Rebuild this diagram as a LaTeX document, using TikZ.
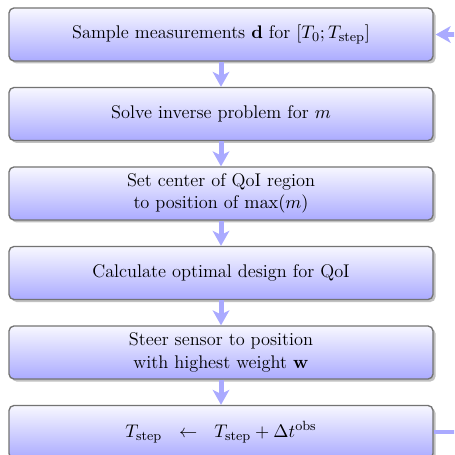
\documentclass[tikz,border=0pt]{standalone}
\usetikzlibrary{arrows.meta,shadows,calc}
\definecolor{conncol}{RGB}{170,170,255}
\begin{document}
\begin{tikzpicture}[x=0.6pt,y=-0.6pt,
  stepbox/.style={draw=black!55, line width=0.8pt, rounded corners=3pt,
    top color=blue!3, bottom color=blue!33,
    minimum width=254.4pt, minimum height=31.8pt, align=center,
    font=\fontsize{11}{13.5}\selectfont,
    drop shadow={shadow xshift=1.5pt, shadow yshift=-1.5pt, fill=black!35, opacity=0.7}},
  conn/.style={draw=conncol, line width=3pt,
    -{Stealth[length=9pt, width=10pt, inset=2.5pt]}},
  fb/.style={draw=conncol, line width=2.6pt,
    -{Stealth[length=9pt, width=10pt, inset=2.5pt]}}]
\useasboundingbox (0,0) rectangle (454,455);
\clip (0,0) rectangle (454,455);
\node[stepbox] (b1) at (221,34.5) {Sample measurements $\mathbf{d}$ for $[T_0;T_{\mathrm{step}}]$};
\node[stepbox] (b2) at (221,114) {Solve inverse problem for $m$};
\node[stepbox] (b3) at (221,193.5) {Set center of QoI region\\to position of $\max(m)$};
\node[stepbox] (b4) at (221,273) {Calculate optimal design for QoI};
\node[stepbox] (b5) at (221,352.5) {Steer sensor to position\\with highest weight $\mathbf{w}$};
\node[stepbox] (b6) at (221,432) {$T_{\mathrm{step}}\ \ \leftarrow\ \ T_{\mathrm{step}}+\Delta t^{\mathrm{obs}}$};
\draw[conn] (b1) -- (b2);
\draw[conn] (b2) -- (b3);
\draw[conn] (b3) -- (b4);
\draw[conn] (b4) -- (b5);
\draw[conn] (b5) -- (b6);
\draw[fb] (b6.east) -- ++(40,0) |- ($(b1.east)+(2,0)$);
\end{tikzpicture}
\end{document}
